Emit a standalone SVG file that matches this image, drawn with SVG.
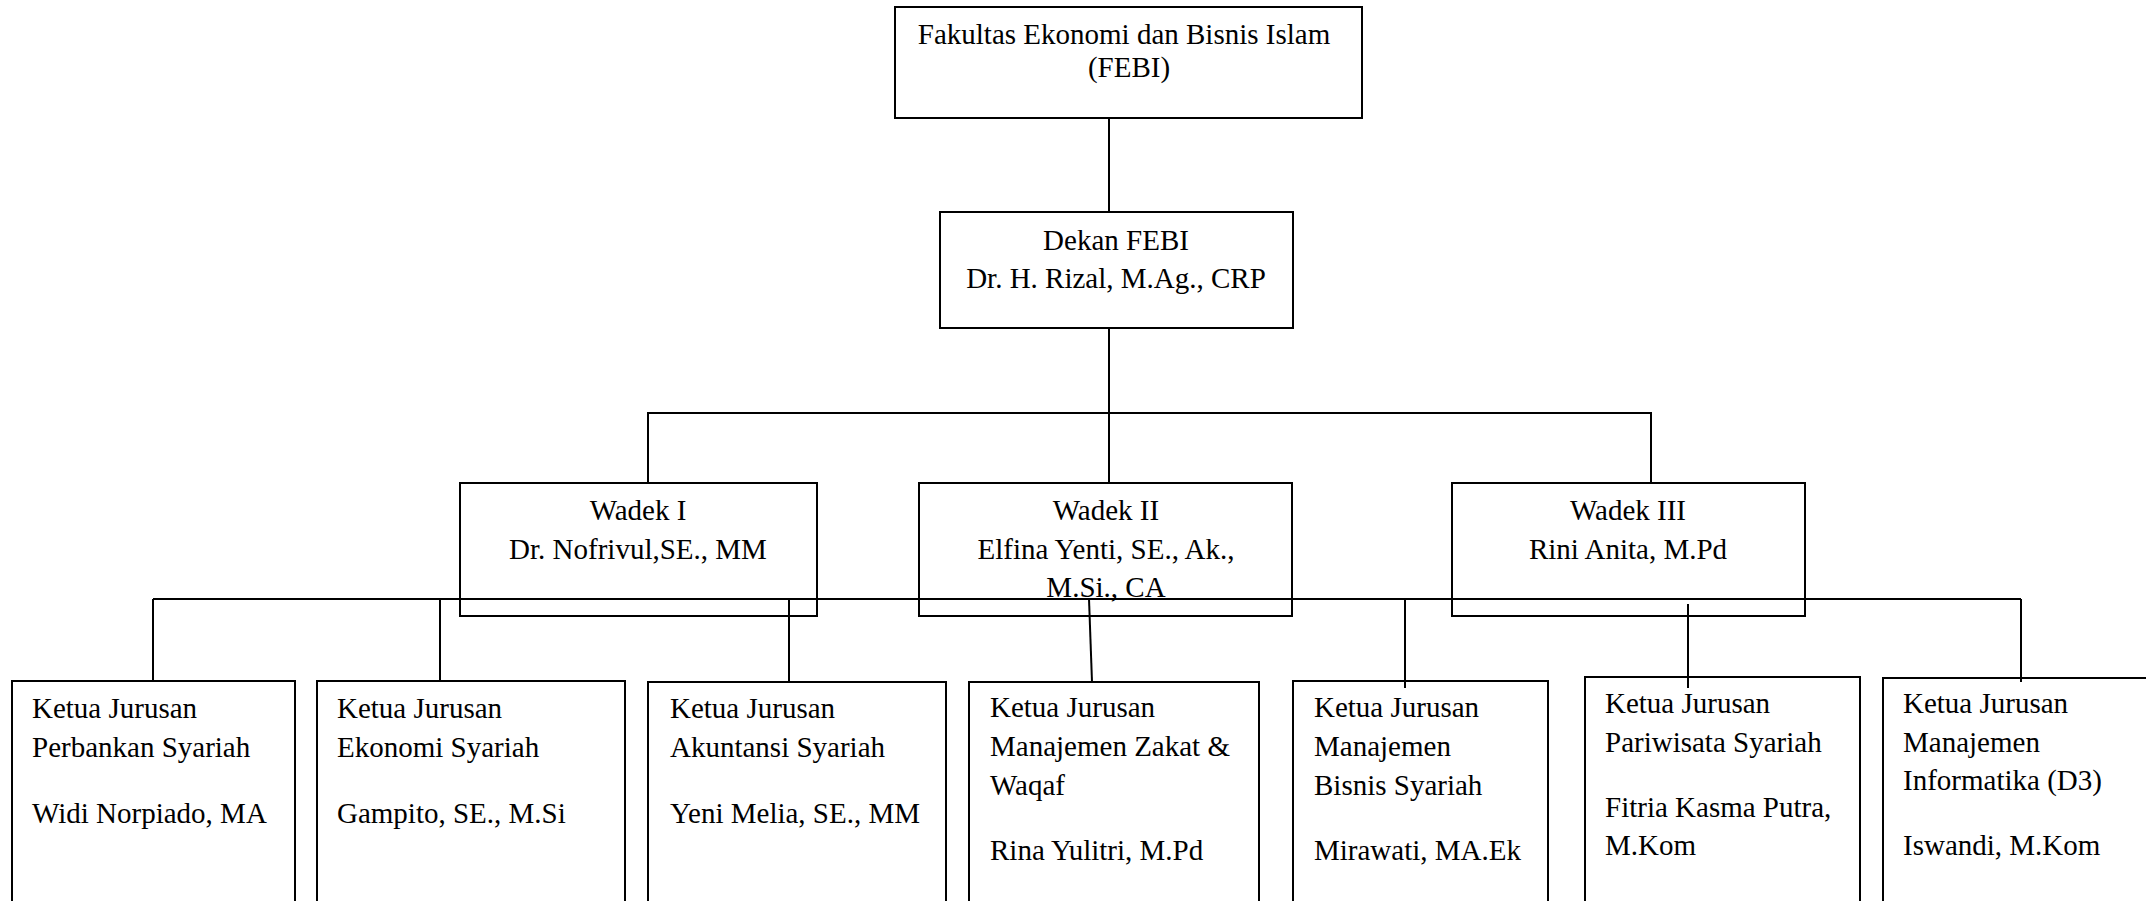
<svg xmlns="http://www.w3.org/2000/svg" width="2146" height="901" viewBox="0 0 2146 901">
<style>
.box{fill:#fff;stroke:#000;stroke-width:2}
.ln{fill:none;stroke:#000;stroke-width:2}
text{font-family:"Liberation Serif","Times New Roman",serif;font-size:29px;fill:#000}
.c{text-anchor:middle}
</style>
<rect width="2146" height="901" fill="#fff"/>
<g id="connectors">
<line class="ln" x1="1109" y1="118" x2="1109" y2="212"/>
<line class="ln" x1="1109" y1="328" x2="1109" y2="483"/>
<polyline class="ln" points="648,483 648,413 1651,413 1651,483"/>
</g>
<g id="febi">
<rect class="box" x="895" y="7" width="467" height="111"/>
<text class="c" x="1124" y="44">Fakultas Ekonomi dan Bisnis Islam</text>
<text class="c" x="1129" y="77">(FEBI)</text>
</g>
<g id="dekan">
<rect class="box" x="940" y="212" width="353" height="116"/>
<text class="c" x="1116" y="250">Dekan FEBI</text>
<text class="c" x="1116" y="288">Dr. H. Rizal, M.Ag., CRP</text>
</g>
<g id="wadek1">
<rect class="box" x="460" y="483" width="357" height="133"/>
<text class="c" x="638" y="520">Wadek I</text>
<text class="c" x="638" y="559">Dr. Nofrivul,SE., MM</text>
</g>
<g id="wadek2">
<rect class="box" x="919" y="483" width="373" height="133"/>
<text class="c" x="1106" y="520">Wadek II</text>
<text class="c" x="1106" y="559">Elfina Yenti, SE., Ak.,</text>
<text class="c" x="1106" y="597">M.Si., CA</text>
</g>
<g id="wadek3">
<rect class="box" x="1452" y="483" width="353" height="133"/>
<text class="c" x="1628" y="520">Wadek III</text>
<text class="c" x="1628" y="559">Rini Anita, M.Pd</text>
</g>
<g id="connectors2">
<line class="ln" x1="153" y1="599" x2="2021" y2="599"/>
<line class="ln" x1="153" y1="599" x2="153" y2="681"/>
<line class="ln" x1="440" y1="599" x2="440" y2="681"/>
<line class="ln" x1="789" y1="599" x2="789" y2="682"/>
<line class="ln" x1="1089" y1="599" x2="1092" y2="682"/>
<line class="ln" x1="1405" y1="599" x2="1405" y2="688"/>
<line class="ln" x1="1688" y1="604" x2="1688" y2="688"/>
<line class="ln" x1="2021" y1="599" x2="2021" y2="682"/>
</g>
<g id="kj1">
<rect class="box" x="12" y="681" width="283" height="240"/>
<text x="32" y="718">Ketua Jurusan</text>
<text x="32" y="757">Perbankan Syariah</text>
<text x="32" y="823">Widi Norpiado, MA</text>
</g>
<g id="kj2">
<rect class="box" x="317" y="681" width="308" height="240"/>
<text x="337" y="718">Ketua Jurusan</text>
<text x="337" y="757">Ekonomi Syariah</text>
<text x="337" y="823">Gampito, SE., M.Si</text>
</g>
<g id="kj3">
<rect class="box" x="648" y="682" width="298" height="240"/>
<text x="670" y="718">Ketua Jurusan</text>
<text x="670" y="757">Akuntansi Syariah</text>
<text x="670" y="823">Yeni Melia, SE., MM</text>
</g>
<g id="kj4">
<rect class="box" x="969" y="682" width="290" height="240"/>
<text x="990" y="717">Ketua Jurusan</text>
<text x="990" y="756">Manajemen Zakat &amp;</text>
<text x="990" y="795">Waqaf</text>
<text x="990" y="860">Rina Yulitri, M.Pd</text>
</g>
<g id="kj5">
<rect class="box" x="1293" y="681" width="255" height="240"/>
<text x="1314" y="717">Ketua Jurusan</text>
<text x="1314" y="756">Manajemen</text>
<text x="1314" y="795">Bisnis Syariah</text>
<text x="1314" y="860">Mirawati, MA.Ek</text>
</g>
<g id="kj6">
<rect class="box" x="1585" y="677" width="275" height="240"/>
<text x="1605" y="713">Ketua Jurusan</text>
<text x="1605" y="752">Pariwisata Syariah</text>
<text x="1605" y="817">Fitria Kasma Putra,</text>
<text x="1605" y="855">M.Kom</text>
</g>
<g id="kj7">
<rect class="box" x="1883" y="678" width="280" height="240"/>
<text x="1903" y="713">Ketua Jurusan</text>
<text x="1903" y="752">Manajemen</text>
<text x="1903" y="790">Informatika (D3)</text>
<text x="1903" y="855">Iswandi, M.Kom</text>
</g>
<line class="ln" x1="1405" y1="681" x2="1405" y2="688"/>
<line class="ln" x1="1688" y1="677" x2="1688" y2="688"/>
<line class="ln" x1="2021" y1="678" x2="2021" y2="682"/>
</svg>
